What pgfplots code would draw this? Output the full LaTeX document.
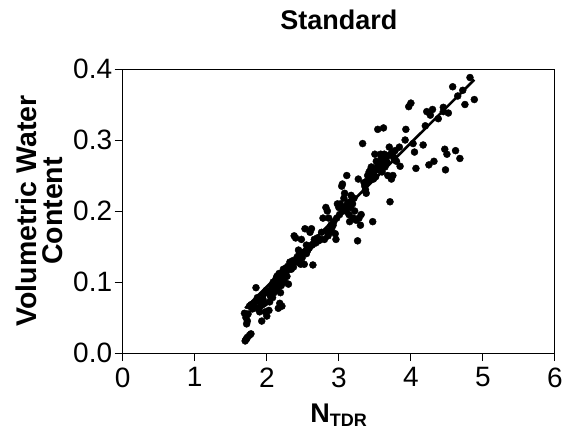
\documentclass[border=0pt]{standalone}
\usepackage{fontspec}
\setmainfont{Liberation Sans}
\usepackage{pgfplots}
\pgfplotsset{compat=1.18}
\begin{document}
\begin{tikzpicture}[x=1pt,y=1pt]
\path[use as bounding box] (-122.7,-79) rectangle (445.3,353);
\begin{axis}[
  at={(0,0)}, anchor=south west,
  scale only axis, width=432.3pt, height=284pt,
  xmin=0, xmax=6, ymin=0, ymax=0.4,
  xtick={0,1,2,3,4,5,6}, ytick={0,0.1,0.2,0.3,0.4},
  yticklabels={0.0,0.1,0.2,0.3,0.4},
  tick align=outside, tick pos=left,
  major tick length=8pt,
  every tick/.style={black, line width=1pt},
  axis line style={line width=1pt},
  /pgf/number format/assume math mode=true,
  ticklabel style={font=\fontsize{28}{30}\selectfont},
  xticklabel style={yshift=-3pt},
  yticklabel style={xshift=1pt},
  title={\fontsize{27}{30}\selectfont\bfseries Standard},
  title style={yshift=30pt},
  xlabel={\fontsize{27}{30}\selectfont\bfseries N\textsubscript{\fontsize{18}{20}\selectfont TDR}},
  xlabel style={yshift=-10pt},
  ylabel={Volumetric Water\\Content},
  ylabel style={align=center, yshift=4pt, font=\fontsize{28.5}{26}\selectfont\bfseries},
  clip=false,
]
\addplot[only marks, mark=*, mark size=3.5pt, black] coordinates {
(1.70,0.017)(1.71,0.019)(1.73,0.022)(1.76,0.025)(1.78,0.027)(1.72,0.020)
(1.69,0.056)(1.71,0.050)(1.73,0.045)(1.72,0.041)(1.74,0.055)(1.76,0.066)
(1.78,0.068)(1.80,0.062)(1.83,0.065)(1.85,0.092)(1.87,0.078)(1.89,0.073)
(1.91,0.066)(1.93,0.045)(1.90,0.058)(1.95,0.082)(1.97,0.070)(1.99,0.088)
(2.00,0.052)(1.98,0.058)(2.03,0.060)(2.05,0.080)(2.07,0.095)(2.09,0.100)
(2.10,0.085)(2.12,0.090)(2.13,0.105)(2.15,0.100)(2.16,0.063)(2.18,0.070)
(2.17,0.112)(2.20,0.095)(2.21,0.066)(2.14,0.090)(2.19,0.110)(2.22,0.105)
(2.24,0.115)(2.25,0.100)(2.27,0.120)(2.28,0.108)(2.30,0.097)(2.32,0.128)
(2.34,0.118)(2.36,0.130)(2.38,0.165)(2.40,0.162)(2.42,0.135)(2.44,0.145)
(2.45,0.140)(2.47,0.125)(2.48,0.160)(2.50,0.140)(2.52,0.125)(2.53,0.175)
(2.55,0.152)(2.57,0.145)(2.60,0.170)(2.62,0.175)(2.64,0.124)(2.58,0.150)
(2.68,0.155)(2.72,0.158)(2.75,0.160)
(1.95,0.075)(2.02,0.085)(2.06,0.090)(2.08,0.078)(2.11,0.098)(2.14,0.108)
(2.18,0.100)(2.21,0.113)(2.23,0.108)(2.26,0.112)(2.29,0.122)(2.31,0.118)
(2.35,0.125)(2.37,0.121)(2.40,0.130)(2.43,0.128)(2.46,0.138)(2.49,0.134)
(2.51,0.142)(2.55,0.140)(2.59,0.148)(2.63,0.152)(2.66,0.160)(2.70,0.162)
(2.09,0.092)(2.12,0.097)(2.16,0.103)(2.23,0.118)(2.27,0.115)(2.33,0.122)
(1.82,0.070)(1.86,0.074)(1.88,0.062)(1.94,0.068)(2.04,0.072)(2.19,0.085)
(2.78,0.190)(2.82,0.205)(2.84,0.200)(2.86,0.190)(2.80,0.160)(2.85,0.165)
(2.88,0.170)(2.90,0.175)(2.92,0.180)(2.95,0.168)(2.96,0.160)(2.98,0.210)
(3.00,0.205)(3.02,0.210)(3.04,0.235)(3.05,0.238)(3.07,0.218)(3.08,0.225)
(3.10,0.200)(3.11,0.250)(3.12,0.210)(3.14,0.195)(3.15,0.185)(3.17,0.222)
(3.18,0.215)(3.20,0.190)(3.22,0.200)(3.24,0.187)(3.26,0.158)(3.27,0.245)
(3.28,0.190)(3.30,0.180)(3.31,0.195)(3.33,0.295)(3.35,0.240)(3.37,0.230)
(3.38,0.225)(3.40,0.250)(3.42,0.255)(3.45,0.262)(3.47,0.185)(3.48,0.245)
(3.50,0.280)(3.52,0.270)(3.54,0.315)(3.55,0.258)(3.57,0.265)(3.59,0.275)
(3.62,0.317)(3.63,0.280)(3.64,0.262)(3.66,0.270)(3.68,0.250)(3.70,0.290)
(3.71,0.213)(3.72,0.280)(3.73,0.245)(3.75,0.250)(3.77,0.272)(3.78,0.285)
(3.80,0.270)(3.84,0.290)(3.85,0.263)(3.92,0.300)(3.93,0.315)(3.97,0.347)
(4.00,0.352)(4.03,0.295)(4.05,0.283)(4.07,0.260)(4.17,0.293)(4.20,0.320)
(4.22,0.340)(4.25,0.265)(4.27,0.335)(4.30,0.343)(4.32,0.270)(4.45,0.346)
(4.47,0.287)(4.48,0.258)(4.50,0.280)(4.52,0.338)(4.58,0.375)(4.62,0.285)
(4.65,0.362)(4.68,0.274)(4.72,0.370)(4.75,0.350)(4.82,0.388)(4.88,0.357)
(4.45,0.340)(4.38,0.330)
(2.76,0.170)(2.83,0.172)(2.89,0.180)(2.93,0.185)(2.97,0.190)(3.01,0.195)
(3.06,0.200)(3.09,0.206)(3.13,0.212)(3.16,0.205)(3.19,0.210)(3.21,0.218)
(3.36,0.235)(3.39,0.242)(3.43,0.246)(3.46,0.250)(3.49,0.255)(3.53,0.262)
(3.56,0.268)(3.58,0.262)(3.61,0.270)(3.65,0.275)(3.67,0.268)(3.69,0.278)
(3.74,0.282)(3.76,0.276)(3.51,0.248)(3.60,0.255)(3.44,0.258)(3.58,0.280)
};
\addplot[black, line width=2.6pt] coordinates {(1.70,0.063)(4.88,0.385)};
\end{axis}
\end{tikzpicture}
\end{document}
